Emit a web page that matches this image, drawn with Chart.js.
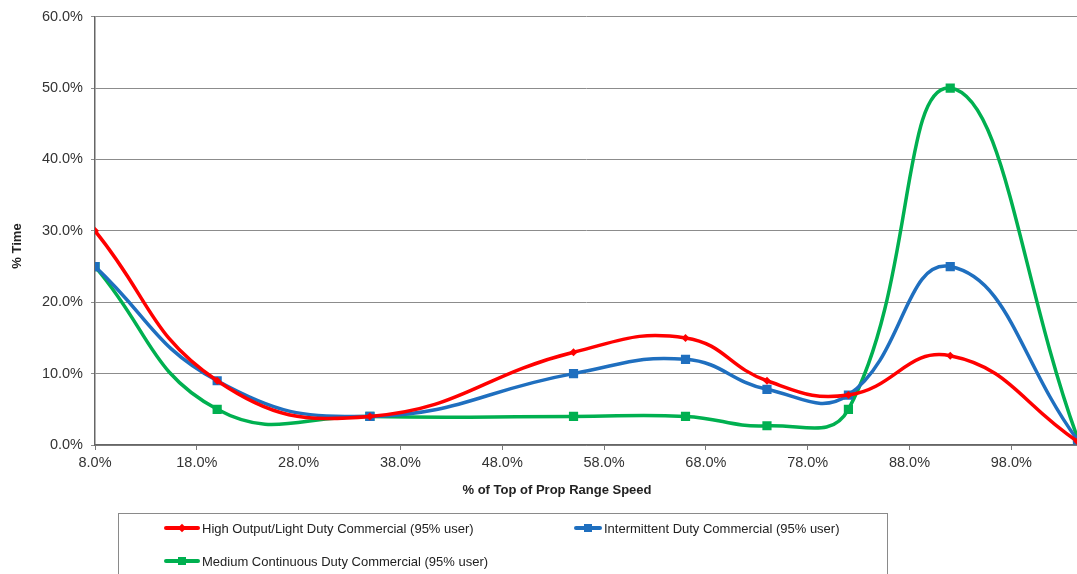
<!DOCTYPE html>
<html>
<head>
<meta charset="utf-8">
<script src="https://cdn.jsdelivr.net/npm/chart.js@4"></script>
<style>
  html, body { margin: 0; padding: 0; background: #fff; }
  #wrap { position: relative; width: 1077px; height: 574px; overflow: hidden; }
  #legend {
    position: absolute; left: 118px; top: 513px; width: 770px; height: 90px;
    border: 1px solid #8a8a8a; box-sizing: border-box;
    font: 13px "Liberation Sans", Arial, sans-serif; color: #222;
  }
  .item { position: absolute; display: flex; align-items: center; white-space: nowrap; height: 16px; }
  .swatch { position: relative; height: 16px; margin-right: 2px; }
  .swatch .ln { position: absolute; left: 0; right: 0; top: 6px; height: 4px; border-radius: 2px; }
  .swatch .mk { position: absolute; left: 50%; top: 50%; width: 8px; height: 8px; margin: -4px 0 0 -4px; }
  .swatch .mk.diamond { width: 6px; height: 6px; margin: -3px 0 0 -3px; transform: rotate(45deg); }
</style>
</head>
<body>
<div id="wrap">
  <canvas id="chart" width="1084" height="574"></canvas>
  <div id="legend"></div>
</div>
<script>
// values (% of top of prop range speed vs % time)
const xValues = [8, 20, 35, 55, 66, 74, 82, 92, 104.5];
const highOutput = [30, 9, 4, 13, 15, 9, 7, 12.5, 0.5];
const intermittent = [25, 9, 4, 10, 12, 7.8, 7, 25, 0.7];
const mediumContinuous = [25, 5, 4, 4, 4, 2.7, 5, 50, 1.0];

const xTicks = [8, 18, 28, 38, 48, 58, 68, 78, 88, 98];
const seriesNames = [
  "High Output/Light Duty Commercial (95% user)",
  "Intermittent Duty Commercial (95% user)",
  "Medium Continuous Duty Commercial (95% user)",
];
const seriesColors = ["#ff0000", "#1f6fbf", "#00b050"];

const FONT = '"Liberation Sans", Arial, sans-serif';

function toPoints(values) {
  return values.map((v, i) => ({ x: xValues[i], y: v }));
}

const datasets = [highOutput, intermittent, mediumContinuous].map((vals, i) => ({
  label: seriesNames[i],
  data: toPoints(vals),
  borderColor: seriesColors[i],
  backgroundColor: seriesColors[i],
  borderWidth: 3.5,
  tension: 0.45,
  pointStyle: i === 0 ? "rectRot" : "rect",
  pointRadius: i === 0 ? 4 : 6.5,
  pointBorderWidth: 0,
  pointBackgroundColor: seriesColors[i],
}));

// axis titles drawn at the spots they sit in the reference
const axisTitles = {
  id: "axisTitles",
  afterDraw(chart) {
    const ctx = chart.ctx;
    ctx.save();
    ctx.fillStyle = "#222";
    ctx.font = "bold 13px " + FONT;
    ctx.textAlign = "center";
    ctx.textBaseline = "middle";
    ctx.fillText("% of Top of Prop Range Speed", 557, 490);
    ctx.translate(17, 246);
    ctx.rotate(-Math.PI / 2);
    ctx.fillText("% Time", 0, 0);
    ctx.restore();
  },
};

new Chart(document.getElementById("chart"), {
  type: "line",
  data: { datasets },
  options: {
    responsive: false,
    animation: false,
    layout: { padding: { top: 13, left: 0, right: 0, bottom: 0 } },
    plugins: { legend: { display: false }, tooltip: { enabled: false } },
    scales: {
      x: {
        type: "linear",
        min: xValues[0],
        max: xValues[xValues.length - 1],
        afterBuildTicks: (scale) => { scale.ticks = xTicks.map((v) => ({ value: v })); },
        afterFit: (scale) => { scale.height = 129; },
        grid: { drawOnChartArea: false, drawTicks: true, tickLength: 5, color: "#777" },
        border: { color: "#666", width: 1.5 },
        ticks: {
          color: "#333",
          font: { family: FONT, size: 14.5 },
          padding: 4,
          maxRotation: 0,
          callback: (v) => v.toFixed(1) + "%",
        },
      },
      y: {
        min: 0,
        max: 60,
        afterFit: (scale) => { scale.width = 95; },
        grid: { color: "#8c8c8c", lineWidth: 1, tickLength: 4 },
        border: { color: "#666", width: 1.5 },
        ticks: {
          stepSize: 10,
          color: "#333",
          font: { family: FONT, size: 14.5 },
          padding: 8,
          callback: (v) => v.toFixed(1) + "%",
        },
      },
    },
  },
  plugins: [axisTitles],
});

// legend box below the chart
const legendSpots = [
  { left: 45, top: 6, line: 36 },
  { left: 455, top: 6, line: 28 },
  { left: 45, top: 39, line: 36 },
];
const legend = document.getElementById("legend");
seriesNames.forEach((name, i) => {
  const spot = legendSpots[i];
  const item = document.createElement("div");
  item.className = "item";
  item.style.left = spot.left + "px";
  item.style.top = spot.top + "px";
  item.innerHTML =
    `<span class="swatch" style="width:${spot.line}px">` +
    `<span class="ln" style="background:${seriesColors[i]}"></span>` +
    `<span class="mk ${i === 0 ? "diamond" : ""}" style="background:${seriesColors[i]}"></span></span>` +
    `<span>${name}</span>`;
  legend.appendChild(item);
});
</script>
</body>
</html>
